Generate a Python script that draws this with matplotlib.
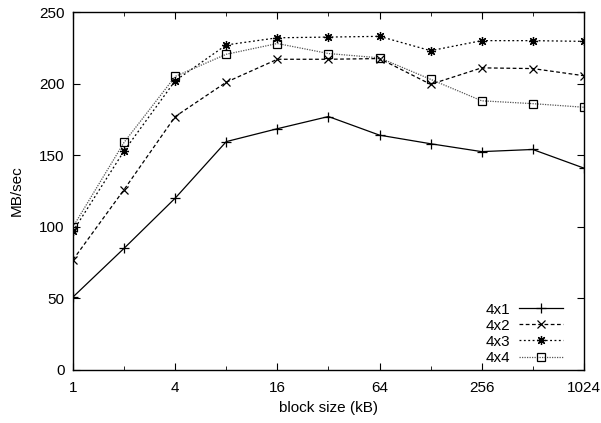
import matplotlib
matplotlib.use('Agg')
import matplotlib.pyplot as plt
from matplotlib.ticker import FixedLocator, NullFormatter

plt.rcParams['font.family'] = ['Liberation Sans', 'DejaVu Sans']

block_kb = [1, 2, 4, 8, 16, 32, 64, 128, 256, 512, 1024]
mb_4x1 = [51, 85, 120, 159.5, 168.5, 177, 164, 158, 152.5, 154, 141]
mb_4x2 = [77, 126, 177, 201, 217, 217, 217.5, 199.5, 211, 210.5, 205.5]
mb_4x3 = [97, 153, 202, 227, 232, 232.5, 233, 223, 230, 230, 229.5]
mb_4x4 = [100, 159, 205, 220.5, 228, 221, 218, 203, 188, 186, 183.5]
x_ticks = [1, 4, 16, 64, 256, 1024]
x_minor = [2, 8, 32, 128, 512]

fig = plt.figure(figsize=(6.01, 4.23), dpi=100)
ax = fig.add_axes([0.1215, 0.1253, 0.85, 0.8463])

ax.plot(block_kb, mb_4x1, color='black', lw=0.9, ls='-', marker='+', ms=6.5, mew=0.9, label='4x1')
ax.plot(block_kb, mb_4x2, color='black', lw=0.9, ls=(0, (3, 2)), marker='x', ms=6, mew=0.9, label='4x2')
ax.plot(block_kb, mb_4x3, color='black', lw=0.9, ls=(0, (1.5, 2)), marker=(8, 2, 0), ms=6.5, mew=0.9, label='4x3')
ax.plot(block_kb, mb_4x4, color='#555555', lw=0.9, ls=(0, (1, 1)), marker='s', ms=6, mew=0.9,
        mfc='none', mec='black', label='4x4')

ax.set_xscale('log', base=2)
ax.set_xlim(1, 1024)
ax.set_ylim(0, 250)
ax.xaxis.set_major_locator(FixedLocator(x_ticks))
ax.xaxis.set_minor_locator(FixedLocator(x_minor))
ax.xaxis.set_minor_formatter(NullFormatter())
ax.set_xticklabels([str(t) for t in x_ticks])
ax.set_yticks([0, 50, 100, 150, 200, 250])

ax.tick_params(which='both', direction='in', top=True, right=True, labelsize=11)
ax.tick_params(axis='x', pad=8)
ax.tick_params(axis='y', pad=6)
ax.tick_params(which='major', length=5)
ax.tick_params(which='minor', length=3)
for s in ax.spines.values():
    s.set_linewidth(1)

ax.set_xlabel('block size (kB)', fontsize=11, labelpad=4)
ax.set_ylabel('MB/sec', fontsize=11, labelpad=11)

ax.legend(loc='lower right', bbox_to_anchor=(0.984, -0.02), frameon=False, markerfirst=False,
          fontsize=11, handlelength=2.9, labelspacing=0.14, borderaxespad=0.4, handletextpad=0.6)

fig.savefig('out.png', dpi=100)
